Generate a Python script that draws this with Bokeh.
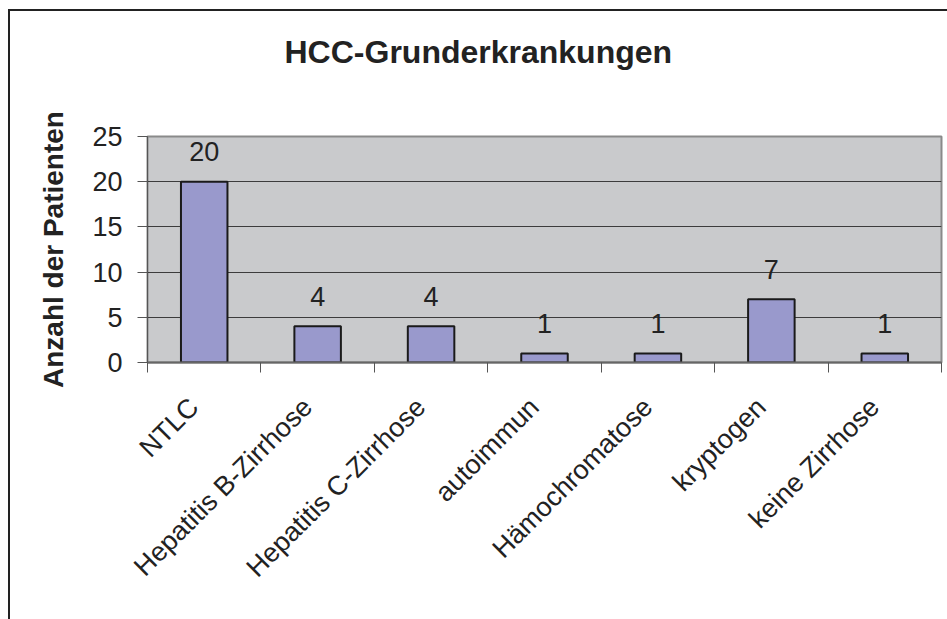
import math
from bokeh.plotting import figure
from bokeh.models import Range1d, FixedTicker, ColumnDataSource, Title
from bokeh.embed import file_html
from bokeh.resources import INLINE

# ---- data ----
categories = ["NTLC", "Hepatitis B-Zirrhose", "Hepatitis C-Zirrhose", "autoimmun",
              "Hämochromatose", "kryptogen", "keine Zirrhose"]
patients = [20, 4, 4, 1, 1, 7, 1]
y_ticks = [0, 5, 10, 15, 20, 25]
grid_ticks = [5, 10, 15, 20]
title_text = "HCC-Grunderkrankungen"
y_label = "Anzahl der Patienten"

FONT = "Liberation Sans"
INK = "#222222"

n = len(categories)
centers = [i + 0.5 for i in range(n)]
bounds = list(range(n + 1))
label_shift = -0.09  # tick-label anchor sits slightly left of the category centre
label_pos = [c + label_shift for c in centers]

src = ColumnDataSource(dict(x=centers, y=patients, label=[str(v) for v in patients]))

p = figure(width=947, height=619, x_range=Range1d(0, n), y_range=Range1d(0, 25),
           output_backend="svg", toolbar_location=None,
           min_border_left=147, min_border_right=6, min_border_top=136, min_border_bottom=257,
           background_fill_color="#C9CACC", border_fill_color=None)
p.styles = {"box-shadow": "inset 8px 9px 0 #ffffff, inset 10px 11px 0 #222222"}

p.vbar(x="x", top="y", bottom=0, width=0.41, source=src,
       fill_color="#9999CC", line_color="#1a1a1a", line_width=2)
p.text(x="x", y="y", text="label", source=src, text_align="center",
       text_baseline="middle", y_offset=-30, text_font_size="27px",
       text_font={"value": FONT}, text_color=INK)

# built-in title unused; spacer panel next to the frame, real title outside it
p.title.text = ""
p.add_layout(Title(text=".", text_font_size="1px", standoff=64, text_color="#ffffff"), "above")
p.add_layout(Title(text=title_text, align="left", offset=137, standoff=0,
                   text_font=FONT, text_font_size="32px", text_font_style="bold",
                   text_color=INK), "above")

# x axis
xa = p.xaxis[0]
xa.ticker = FixedTicker(ticks=label_pos, minor_ticks=bounds)
xa.major_label_overrides = {c: cat for c, cat in zip(label_pos, categories)}
xa.major_tick_line_color = None
xa.major_tick_out = 10
xa.major_tick_in = 0
xa.minor_tick_out = 10
xa.minor_tick_in = 0
xa.minor_tick_line_color = "#555555"
xa.minor_tick_line_width = 1
xa.axis_line_color = "#666666"
xa.axis_line_width = 2
xa.major_label_orientation = math.pi / 4
xa.major_label_standoff = 30
xa.major_label_text_font = FONT
xa.major_label_text_font_size = "27px"
xa.major_label_text_color = INK

# y axis
ya = p.yaxis[0]
ya.ticker = FixedTicker(ticks=y_ticks)
ya.major_tick_out = 10
ya.major_tick_in = 0
ya.minor_tick_line_color = None
ya.major_tick_line_color = "#555555"
ya.axis_line_color = "#555555"
ya.axis_line_width = 1
ya.major_label_standoff = 15
ya.major_label_text_font = FONT
ya.major_label_text_font_size = "27px"
ya.major_label_text_color = INK
ya.axis_label = y_label
ya.axis_label_text_font = FONT
ya.axis_label_text_font_size = "28px"
ya.axis_label_text_font_style = "bold"
ya.axis_label_text_color = INK
ya.axis_label_standoff = 20

p.xgrid.visible = False
p.ygrid.ticker = FixedTicker(ticks=grid_ticks)
p.ygrid.grid_line_color = "#3c3c3c"
p.ygrid.grid_line_width = 1

p.outline_line_color = "#8a8a8a"
p.outline_line_width = 2

open("out.html", "w").write(file_html(p, INLINE))
